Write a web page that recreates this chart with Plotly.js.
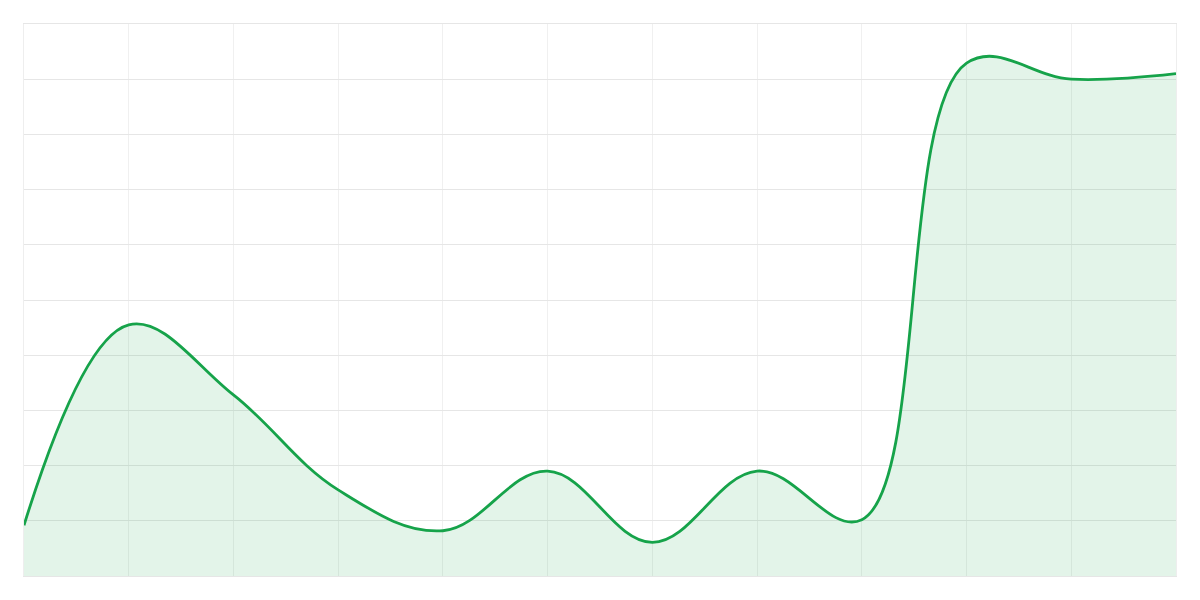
<!DOCTYPE html>
<html>
<head>
<meta charset="utf-8">
<script src="https://cdn.plot.ly/plotly-3.0.1.min.js"></script>
<style>
  html, body { margin: 0; padding: 0; background: #ffffff; }
  #chart { width: 1200px; height: 600px; }
</style>
</head>
<body>
<div id="chart"></div>
<script>
// data
const xs = [0, 1, 2, 3, 4, 5, 6, 7, 8, 9, 10, 11];
const values = [0.92, 4.55, 3.28, 1.56, 0.82, 1.9, 0.61, 1.9, 1.02, 9.29, 9.0, 9.1];

const trace = {
    x: xs,
    y: values,
    type: 'scatter',
    mode: 'lines',
    line: { color: '#16a34a', width: 2.8, shape: 'spline', smoothing: 1.1 },
    fill: 'tozeroy',
    fillcolor: 'rgba(22,163,74,0.12)',
    hoverinfo: 'none'
};

const layout = {
    width: 1200,
    height: 600,
    margin: { l: 24, r: 24, t: 24, b: 24 },
    paper_bgcolor: '#ffffff',
    plot_bgcolor: '#ffffff',
    showlegend: false,
    xaxis: {
        range: [0, 11],
        dtick: 1,
        tick0: 0,
        showgrid: true,
        gridcolor: '#f0f0f0',
        gridwidth: 1,
        zeroline: false,
        showticklabels: false,
        ticks: '',
        showline: true,
        mirror: true,
        linecolor: '#e6e6e6',
        linewidth: 1,
        fixedrange: true
    },
    yaxis: {
        range: [0, 10],
        dtick: 1,
        tick0: 0,
        showgrid: true,
        gridcolor: '#e6e6e6',
        gridwidth: 1,
        zeroline: false,
        showticklabels: false,
        ticks: '',
        showline: true,
        mirror: true,
        linecolor: '#eeeeee',
        linewidth: 1,
        fixedrange: true
    }
};

Plotly.newPlot('chart', [trace], layout, { displayModeBar: false, staticPlot: true });
</script>
</body>
</html>
